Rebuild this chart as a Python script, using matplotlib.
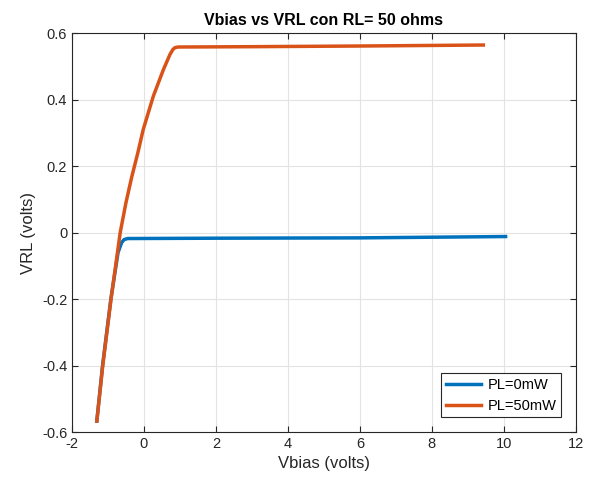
import matplotlib
matplotlib.use('Agg')
import matplotlib.pyplot as plt

plt.rcParams['font.family'] = ['Liberation Sans', 'DejaVu Sans']
plt.rcParams['axes.unicode_minus'] = False

vbias_0mw = [-1.31, -1.15, -0.92, -0.72, -0.62, -0.55, -0.45, 2.0, 6.0, 10.05]
vrl_0mw = [-0.567, -0.40, -0.20, -0.06, -0.03, -0.021, -0.018, -0.017, -0.016, -0.012]

vbias_50mw = [-1.31, -1.145, -0.915, -0.66, -0.5, -0.34, -0.17, -0.02, 0.12, 0.26,
              0.40, 0.54, 0.64, 0.72, 0.80, 0.86, 0.95, 3.0, 6.0, 9.43]
vrl_50mw = [-0.567, -0.40, -0.20, 0.0, 0.09, 0.167, 0.24, 0.31, 0.36, 0.41,
            0.45, 0.49, 0.515, 0.535, 0.55, 0.556, 0.558, 0.559, 0.561, 0.564]

xticks = [-2, 0, 2, 4, 6, 8, 10, 12]
yticks = [-0.6, -0.4, -0.2, 0, 0.2, 0.4, 0.6]
ytick_labels = ['-0.6', '-0.4', '-0.2', '0', '0.2', '0.4', '0.6']

fig = plt.figure(figsize=(5.92, 4.79), dpi=100)
ax = fig.add_axes([0.1216, 0.098, 0.851, 0.833])

ax.plot(vbias_0mw, vrl_0mw, color='#0072BD', lw=2.5, label='PL=0mW')
ax.plot(vbias_50mw, vrl_50mw, color='#D95319', lw=2.5, label='PL=50mW')

ax.set_xlim(-2, 12)
ax.set_ylim(-0.6, 0.6)
ax.set_xticks(xticks)
ax.set_yticks(yticks)
ax.set_yticklabels(ytick_labels)
ax.grid(True, color='#e3e3e3', lw=0.8)
ax.set_axisbelow(True)
ax.tick_params(direction='in', top=True, right=True, labelsize=10.5, colors='#262626', length=4)
for s in ax.spines.values():
    s.set_color('#262626')
    s.set_linewidth(0.8)

ax.set_xlabel('Vbias (volts)', fontsize=12, color='#262626')
ax.set_ylabel('VRL (volts)', fontsize=12, color='#262626')
ax.set_title('Vbias vs VRL con RL= 50 ohms', fontsize=11.5, fontweight='bold')

leg = ax.legend(loc='lower right', fontsize=10.5, fancybox=False, framealpha=1,
                edgecolor='#262626', handlelength=2.4, handletextpad=0.5,
                borderaxespad=1.0, borderpad=0.3)
leg.get_frame().set_linewidth(0.8)

fig.savefig('out.png', dpi=100)
